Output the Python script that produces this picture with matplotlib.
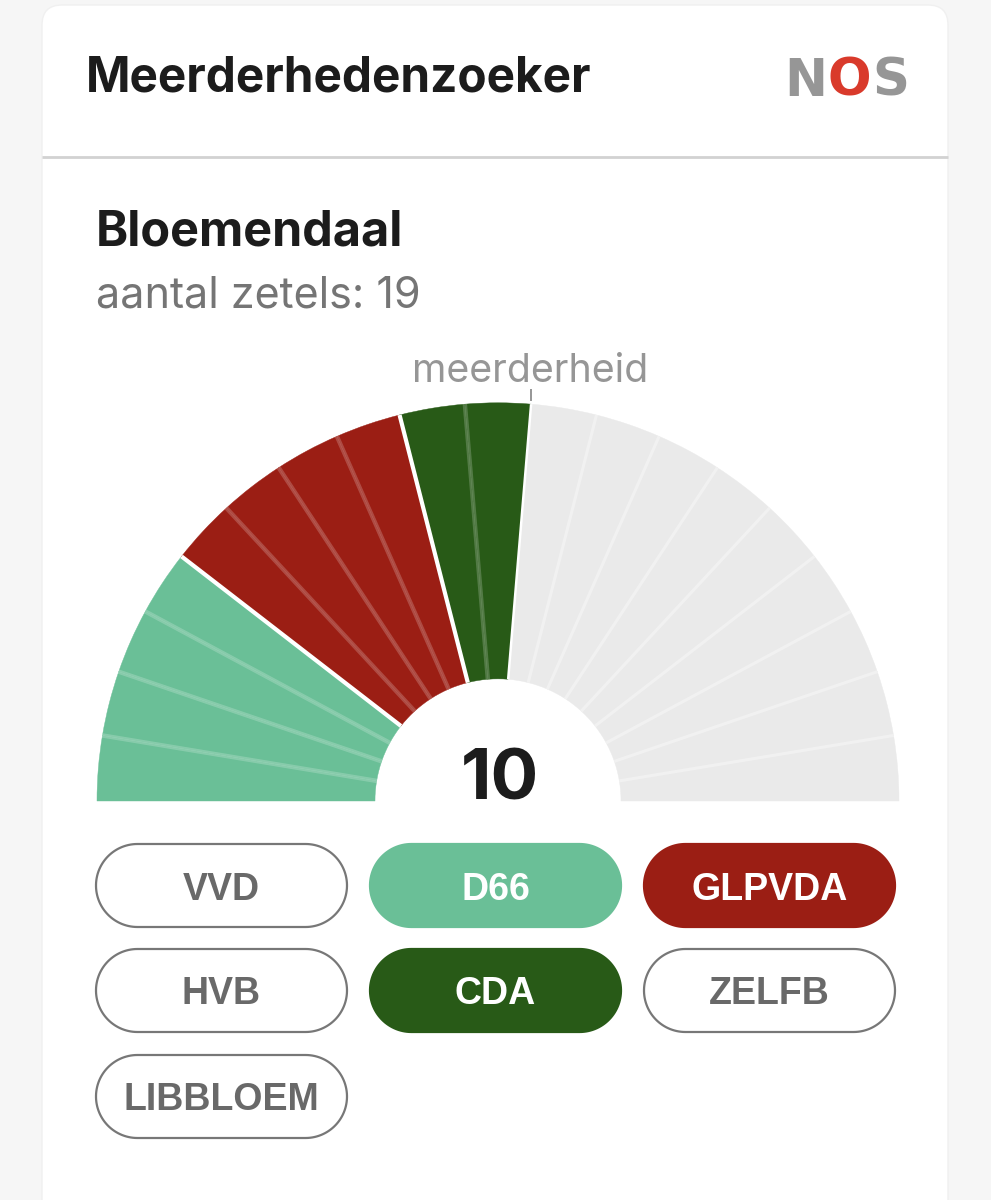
import matplotlib
matplotlib.use("Agg")
import numpy as np
import matplotlib.pyplot as plt
from matplotlib.patches import FancyBboxPatch, Polygon, Wedge
from matplotlib.transforms import Affine2D

W, H = 991, 1200

# zetels per partij in de coalitie, van links naar rechts
coalition = ["D66", "GLPVDA", "CDA"]
coalition_seats = [4, 4, 2]
total_seats = 19
majority_label = "10"

parties = ["VVD", "D66", "GLPVDA", "HVB", "CDA", "ZELFB", "LIBBLOEM"]
selected = ["D66", "GLPVDA", "CDA"]
colors = {"D66": "#6abf97", "GLPVDA": "#9b1e14", "CDA": "#285a17"}
empty_color = "#eaeaea"
dark = "#1c1c1c"
grey = "#757575"

fig = plt.figure(figsize=(W / 100, H / 100), dpi=100, facecolor="#f6f6f6")
ax = fig.add_axes([0, 0, 1, 1])
ax.set_xlim(0, W)
ax.set_ylim(0, H)
ax.axis("off")


def Y(py):
    # pixel vanaf boven -> data
    return H - py


def pill(x0, y0, w, h):
    # echte halve cirkels aan beide kanten
    r = h / 2
    t = np.linspace(-np.pi / 2, np.pi / 2, 60)
    right = np.c_[x0 + w - r + r * np.cos(t), y0 + r + r * np.sin(t)]
    left = np.c_[x0 + r - r * np.cos(t[::-1] * -1), y0 + r + r * np.sin(t[::-1])]
    return np.vstack([right, left])


# kaart
ax.add_patch(FancyBboxPatch((42, Y(1240)), 906, 1235, boxstyle="round,pad=0,rounding_size=20",
                            fc="white", ec="#f0f0f0", lw=1))
ax.plot([42, 948], [Y(157), Y(157)], color="#d2d2d2", lw=2, solid_capstyle="butt")

ax.text(86, Y(78), "Meerderhedenzoeker", fontsize=34.4, fontweight="bold", family="Inter",
        color=dark, va="center", ha="left")
ax.text(96, Y(232), "Bloemendaal", fontsize=35, fontweight="bold", family="Inter",
        color=dark, va="center", ha="left")
ax.text(96, Y(296), f"aantal zetels: {total_seats}", fontsize=31, family="Inter",
        color=grey, va="center", ha="left")

# logo
ax.text(784, Y(82), "N", fontsize=37, fontweight="bold", family="DejaVu Sans", color="#969696",
        va="center", ha="left")
ax.text(827.5, Y(82), "O", fontsize=37, fontweight="bold", family="DejaVu Sans", color="#d93a2b",
        va="center", ha="left")
ax.text(872, Y(82), "S", fontsize=37, fontweight="bold", family="DejaVu Sans", color="#969696",
        va="center", ha="left")

# halve cirkel, in de bron iets platter dan rond
cx, cy = 498, Y(801)
r_out, r_in = 401, 123
step = 180 / total_seats
arc = Affine2D().scale(1, 0.993).translate(cx, cy) + ax.transData

seat_colors = []
for p, n in zip(coalition, coalition_seats):
    seat_colors += [colors[p]] * n
seat_colors += [empty_color] * (total_seats - len(seat_colors))
boundaries = np.cumsum(coalition_seats)

for i, c in enumerate(seat_colors):
    a0 = 180 - (i + 1) * step
    a1 = 180 - i * step
    ax.add_patch(Wedge((0, 0), r_out, a0, a1, width=r_out - r_in, fc=c, ec=c, lw=0.3, transform=arc))

for i in range(1, total_seats):
    a = np.deg2rad(180 - i * step)
    xs = [r_in * np.cos(a), r_out * np.cos(a)]
    ys = [r_in * np.sin(a), r_out * np.sin(a)]
    if i in boundaries:
        lw = 3 if i < boundaries[-1] else 1.8
        ax.plot(xs, ys, color="white", lw=lw, solid_capstyle="butt", transform=arc)
    elif i < boundaries[-1]:
        ax.plot(xs, ys, color="white", alpha=0.2, lw=3.2, solid_capstyle="butt", transform=arc)
    else:
        ax.plot(xs, ys, color="white", alpha=0.35, lw=2.2, solid_capstyle="butt", transform=arc)

# meerderheid
a = np.deg2rad(180 - (int(majority_label)) * step)
tick_x = cx + r_out * np.cos(a)
ax.plot([tick_x, tick_x], [Y(401), Y(389)], color="#969696", lw=1.4, solid_capstyle="butt")
ax.text(530, Y(371), "meerderheid", fontsize=28.3, family="Inter", color="#969696",
        va="center", ha="center")
ax.text(cx + 2, Y(781), majority_label, fontsize=51, fontweight="bold", family="Inter",
        color=dark, va="center", ha="center")

# knoppen
btn_w, btn_h = 251, 83
col_x = [96, 370, 644]
row_y = [844, 949, 1055]
for k, p in enumerate(parties):
    x0 = col_x[k % 3]
    y0 = row_y[k // 3]
    on = p in selected
    ax.add_patch(Polygon(pill(x0, Y(y0 + btn_h), btn_w, btn_h), closed=True,
                         fc=colors[p] if on else "white",
                         ec=colors[p] if on else "#777777", lw=1.6))
    ax.text(x0 + btn_w / 2, Y(y0 + btn_h / 2 + 4), p, fontsize=27, fontweight="bold",
            family="Liberation Sans", color="white" if on else "#696969",
            va="center", ha="center")

fig.savefig("out.png", dpi=100, facecolor=fig.get_facecolor())
